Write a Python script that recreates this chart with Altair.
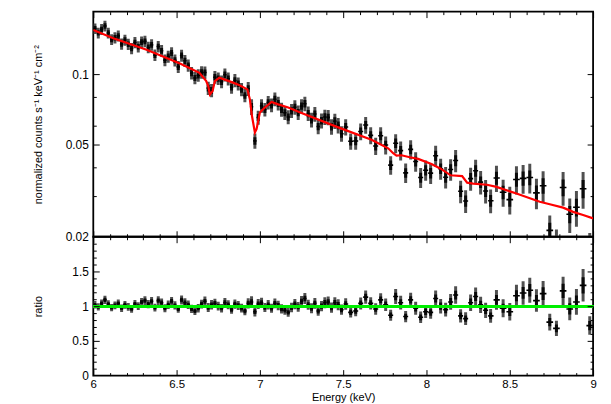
import altair as alt
import numpy as np
import pandas as pd

FONT = "Liberation Sans"

# ---------------- data ----------------
ENERGY = [
    6.01, 6.03, 6.05, 6.07, 6.09, 6.11, 6.13, 6.15, 6.17, 6.19,
    6.21, 6.23, 6.25, 6.27, 6.29, 6.31, 6.33, 6.35, 6.37, 6.39,
    6.41, 6.43, 6.45, 6.47, 6.49, 6.51, 6.53, 6.55, 6.57, 6.59,
    6.61, 6.63, 6.65, 6.67, 6.69, 6.71, 6.73, 6.75, 6.77, 6.79,
    6.81, 6.83, 6.85, 6.87, 6.89, 6.91, 6.93, 6.95, 6.97, 6.99,
    7.01, 7.03, 7.05, 7.07, 7.09, 7.11, 7.13, 7.15, 7.17, 7.19,
    7.21, 7.23, 7.25, 7.27, 7.29, 7.31, 7.33, 7.35, 7.37, 7.39,
    7.41, 7.43, 7.45, 7.47, 7.49,
    7.515, 7.545, 7.575, 7.605, 7.635, 7.665, 7.695, 7.725, 7.755, 7.785,
    7.815, 7.845, 7.875, 7.905, 7.935, 7.965, 7.995, 8.025, 8.055, 8.085,
    8.115, 8.145, 8.175, 8.205, 8.235, 8.265, 8.295, 8.325, 8.355, 8.385,
    8.42, 8.46, 8.50, 8.54, 8.58, 8.62, 8.66, 8.70, 8.74, 8.78,
    8.82, 8.86, 8.90, 8.94, 8.98,
]

FLUX = [
    0.1578, 0.1512, 0.1566, 0.1620, 0.1510, 0.1416, 0.1441, 0.1468, 0.1354, 0.1408,
    0.1351, 0.1295, 0.1374, 0.1318, 0.1380, 0.1390, 0.1309, 0.1343, 0.1213, 0.1320,
    0.1266, 0.1154, 0.1196, 0.1238, 0.1152, 0.1079, 0.1208, 0.1146, 0.1095, 0.1015,
    0.0967, 0.0992, 0.1022, 0.1020, 0.0874, 0.0855, 0.0974, 0.0961, 0.0932, 0.0998,
    0.0959, 0.0882, 0.0943, 0.0913, 0.0863, 0.0813, 0.0869, 0.0726, 0.0518, 0.0653,
    0.0733, 0.0707, 0.0757, 0.0739, 0.0783, 0.0751, 0.0707, 0.0685, 0.0656, 0.0698,
    0.0723, 0.0686, 0.0731, 0.0749, 0.0679, 0.0638, 0.0676, 0.0597, 0.0633, 0.0656,
    0.0654, 0.0596, 0.0630, 0.0604, 0.0556,
    0.0594, 0.0516, 0.0517, 0.0568, 0.0606, 0.0547, 0.0492, 0.0545, 0.0497, 0.0407,
    0.0506, 0.0470, 0.0377, 0.0476, 0.0422, 0.0360, 0.0387, 0.0376, 0.0447, 0.0393,
    0.0361, 0.0390, 0.0426, 0.0314, 0.0285, 0.0356, 0.0385, 0.0344, 0.0315, 0.0286,
    0.0358, 0.0311, 0.0289, 0.0353, 0.0357, 0.0360, 0.0309, 0.0332, 0.0213, 0.0185,
    0.0326, 0.0250, 0.0268, 0.0322, 0.0175,
]

RATIO = [
    1.02, 0.99, 1.04, 1.09, 1.03, 0.98, 1.01, 1.04, 0.97, 1.02,
    0.99, 0.96, 1.03, 1.00, 1.06, 1.08, 1.03, 1.07, 0.98, 1.08,
    1.05, 0.97, 1.02, 1.07, 1.01, 0.96, 1.09, 1.05, 1.02, 0.96,
    0.93, 0.97, 1.03, 1.07, 0.98, 1.02, 1.04, 1.00, 0.97, 1.05,
    1.02, 0.95, 1.03, 1.01, 0.97, 0.93, 1.04, 1.06, 0.92, 1.03,
    1.05, 0.98, 1.02, 0.97, 1.04, 1.01, 0.96, 0.94, 0.91, 0.98,
    1.03, 0.99, 1.07, 1.11, 1.02, 0.97, 1.04, 0.93, 1.00, 1.05,
    1.06, 0.98, 1.05, 1.02, 0.95,
    1.03, 0.91, 0.93, 1.04, 1.13, 1.04, 0.96, 1.09, 1.02, 0.87,
    1.14, 1.05, 0.85, 1.09, 0.97, 0.84, 0.92, 0.91, 1.11, 1.00,
    0.95, 1.06, 1.16, 0.86, 0.82, 1.05, 1.14, 1.02, 0.94, 0.86,
    1.09, 0.97, 0.92, 1.15, 1.19, 1.23, 1.08, 1.18, 0.77, 0.68,
    1.22, 0.96, 1.06, 1.30, 0.72,
]

REL_ERR = [
    0.053, 0.053, 0.054, 0.054, 0.054, 0.054, 0.055, 0.055, 0.055, 0.055,
    0.055, 0.056, 0.056, 0.056, 0.056, 0.057, 0.057, 0.057, 0.057, 0.058,
    0.058, 0.058, 0.059, 0.059, 0.059, 0.059, 0.060, 0.060, 0.060, 0.061,
    0.061, 0.062, 0.062, 0.063, 0.066, 0.066, 0.063, 0.063, 0.063, 0.064,
    0.064, 0.064, 0.065, 0.065, 0.065, 0.066, 0.070, 0.077, 0.075, 0.070,
    0.067, 0.067, 0.067, 0.068, 0.068, 0.069, 0.069, 0.069, 0.070, 0.070,
    0.071, 0.071, 0.072, 0.072, 0.072, 0.073, 0.073, 0.074, 0.074, 0.075,
    0.075, 0.076, 0.076, 0.077, 0.077,
    0.080, 0.081, 0.082, 0.083, 0.084, 0.085, 0.086, 0.088, 0.089, 0.092,
    0.094, 0.094, 0.096, 0.096, 0.097, 0.099, 0.100, 0.102, 0.103, 0.104,
    0.106, 0.107, 0.109, 0.111, 0.112, 0.113, 0.114, 0.115, 0.116, 0.117,
    0.130, 0.133, 0.136, 0.139, 0.142, 0.146, 0.150, 0.154, 0.158, 0.162,
    0.166, 0.170, 0.175, 0.180, 0.185,
]

MODEL_E = [6.00, 6.12, 6.32, 6.52, 6.577, 6.637, 6.677, 6.69, 6.70, 6.716,
           6.73, 6.756, 6.815, 6.875, 6.925, 6.94, 6.952, 6.97, 6.98, 7.00,
           7.03, 7.07, 7.11, 7.17, 7.25, 7.47, 7.67, 7.77, 7.80, 7.82,
           7.85, 7.90, 7.95, 8.03, 8.085, 8.145, 8.214, 8.244, 8.28, 8.363,
           8.42, 8.54, 8.68, 8.74, 8.82, 8.88, 8.94, 9.00]
MODEL_F = [0.1557, 0.1435, 0.1279, 0.1116, 0.1068, 0.1017, 0.0940, 0.0892, 0.0821, 0.0849,
           0.0937, 0.0968, 0.0937, 0.0901, 0.0863, 0.0782, 0.0666, 0.0563, 0.0582, 0.0686,
           0.0721, 0.0762, 0.0744, 0.0721, 0.0683, 0.0592, 0.0524, 0.0481, 0.0458, 0.0447,
           0.0449, 0.0440, 0.0433, 0.0412, 0.0393, 0.0368, 0.0365, 0.0342, 0.0339, 0.0335,
           0.0328, 0.0307, 0.0283, 0.0276, 0.0267, 0.0256, 0.0248, 0.0240]

X_MAJOR = [6.0, 6.5, 7.0, 7.5, 8.0, 8.5, 9.0]
X_MINOR = [6.1, 6.2, 6.3, 6.4, 6.6, 6.7, 6.8, 6.9, 7.1, 7.2, 7.3, 7.4,
           7.6, 7.7, 7.8, 7.9, 8.1, 8.2, 8.3, 8.4, 8.6, 8.7, 8.8, 8.9]
YT_LABELS = [0.02, 0.05, 0.1]
YT_MAJOR = [0.05, 0.1]
YT_MINOR = [0.03, 0.04, 0.06, 0.08]
YB_LABELS = [0, 0.5, 1, 1.5]
YB_MAJOR = [0.5, 1.0, 1.5]
YB_MINOR = [0.1, 0.2, 0.3, 0.4, 0.6, 0.7, 0.8, 0.9, 1.1, 1.2, 1.3, 1.4,
            1.6, 1.7, 1.8, 1.9]

W, H1, H2 = 504, 227, 140
MAJ, MIN = 6, 3

# ---------------- tables ----------------
E = np.array(ENERGY)
mid = (E[1:] + E[:-1]) / 2
lo = np.concatenate([[E[0] - (mid[0] - E[0])], mid])
hi = np.concatenate([mid, [E[-1] + (E[-1] - mid[-1])]])
f = np.array(FLUX)
r = np.array(RATIO)
e = np.array(REL_ERR)
df = pd.DataFrame({
    "E": E, "lo": lo, "hi": hi,
    "f": f, "flo": f * (1 - e), "fhi": f * (1 + e),
    "fclo": f * (1 - e / 2), "fchi": f * (1 + e / 2),
    "r": r, "rlo": r * (1 - e), "rhi": r * (1 + e),
    "rclo": r * (1 - e / 2), "rchi": r * (1 + e / 2),
})
mdf = pd.DataFrame({"E": MODEL_E, "F": MODEL_F})

XS = alt.Scale(domain=[6, 9], nice=False, zero=False)
YT = alt.Scale(type="log", domain=[0.02, 0.1867], nice=False)
YB = alt.Scale(domain=[0, 2], nice=False, zero=False)

BAR_GREY = "#505050"
BAR_CORE = "#0a0a0a"
GREY_W, CORE_W, HOR_W = 3.0, 3.0, 1.6


def tick_axis(orient, offset, values, size):
    return alt.Axis(orient=orient, offset=offset, values=values, tickSize=size,
                    ticks=True, labels=False, domain=False, grid=False,
                    tickColor="black", tickWidth=1, title=None, zindex=2)


def ylabel_axis(values, title):
    return alt.Axis(orient="left", values=values, labelExpr="datum.value + ''",
                    ticks=False, tickSize=0, domain=False, grid=False,
                    labelPadding=5, labelOverlap=False, labelFontSize=12,
                    title=title, titleX=-50, titleFontSize=11, zindex=2)


# ---------------- top panel ----------------
t_vr = alt.Chart(df).mark_rule(color=BAR_GREY, strokeWidth=GREY_W, clip=True).encode(
    x=alt.X("E:Q", scale=XS, axis=tick_axis("top", -H1, X_MAJOR, MAJ)),
    y=alt.Y("flo:Q", scale=YT,
            axis=ylabel_axis(YT_LABELS, "normalized counts s\u207b\u00b9 keV\u207b\u00b9 cm\u207b\u00b2")),
    y2="fhi:Q",
)
t_core = alt.Chart(df).mark_rule(color=BAR_CORE, strokeWidth=CORE_W, clip=True).encode(
    x=alt.X("E:Q", scale=XS, axis=None),
    y=alt.Y("fclo:Q", scale=YT, axis=None),
    y2="fchi:Q",
)
t_hr = alt.Chart(df).mark_rule(color="black", strokeWidth=HOR_W, clip=True).encode(
    x=alt.X("lo:Q", scale=XS, axis=tick_axis("top", -H1, X_MINOR, MIN)),
    x2="hi:Q",
    y=alt.Y("f:Q", scale=YT, axis=tick_axis("right", -W, YT_MAJOR, MAJ)),
)
t_ml = alt.Chart(mdf).mark_line(color="#ff0000", strokeWidth=2.2, clip=True).encode(
    x=alt.X("E:Q", scale=XS, axis=tick_axis("bottom", -H1, X_MAJOR, MAJ)),
    y=alt.Y("F:Q", scale=YT, axis=tick_axis("right", -W, YT_MINOR, MIN)),
)
t_d1 = alt.Chart(mdf).mark_line(opacity=0).encode(
    x=alt.X("E:Q", scale=XS, axis=tick_axis("bottom", -H1, X_MINOR, MIN)),
    y=alt.Y("F:Q", scale=YT, axis=tick_axis("left", -W, YT_MAJOR, MAJ)),
)
t_d2 = alt.Chart(mdf).mark_line(opacity=0).encode(
    x=alt.X("E:Q", scale=XS, axis=None),
    y=alt.Y("F:Q", scale=YT, axis=tick_axis("left", -W, YT_MINOR, MIN)),
)
top = alt.layer(t_vr, t_core, t_hr, t_ml, t_d1, t_d2).resolve_axis(
    x="independent", y="independent").properties(width=W, height=H1)

# ---------------- ratio panel ----------------
b_vr = alt.Chart(df).mark_rule(color=BAR_GREY, strokeWidth=GREY_W, clip=True).encode(
    x=alt.X("E:Q", scale=XS,
            axis=alt.Axis(orient="bottom", values=X_MAJOR, labelExpr="datum.value + ''",
                          ticks=False, tickSize=0, domain=False, grid=False,
                          labelFlush=False, labelOverlap=False, labelPadding=3,
                          labelFontSize=11.5, title="Energy (keV)", titleFontSize=11,
                          titleY=16, titleBaseline="top", zindex=2)),
    y=alt.Y("rlo:Q", scale=YB, axis=ylabel_axis(YB_LABELS, "ratio")),
    y2="rhi:Q",
)
b_core = alt.Chart(df).mark_rule(color=BAR_CORE, strokeWidth=CORE_W, clip=True).encode(
    x=alt.X("E:Q", scale=XS, axis=None),
    y=alt.Y("rclo:Q", scale=YB, axis=None),
    y2="rchi:Q",
)
b_hr = alt.Chart(df).mark_rule(color="black", strokeWidth=HOR_W, clip=True).encode(
    x=alt.X("lo:Q", scale=XS, axis=tick_axis("top", -H2, X_MAJOR, MAJ)),
    x2="hi:Q",
    y=alt.Y("r:Q", scale=YB, axis=tick_axis("right", -W, YB_MAJOR, MAJ)),
)
b_d1 = alt.Chart(df).mark_point(opacity=0).encode(
    x=alt.X("E:Q", scale=XS, axis=tick_axis("top", -H2, X_MINOR, MIN)),
    y=alt.Y("r:Q", scale=YB, axis=tick_axis("right", -W, YB_MINOR, MIN)),
)
b_d2 = alt.Chart(df).mark_point(opacity=0).encode(
    x=alt.X("E:Q", scale=XS, axis=tick_axis("bottom", -H2, X_MAJOR, MAJ)),
    y=alt.Y("r:Q", scale=YB, axis=tick_axis("left", -W, YB_MAJOR, MAJ)),
)
b_d3 = alt.Chart(df).mark_point(opacity=0).encode(
    x=alt.X("E:Q", scale=XS, axis=tick_axis("bottom", -H2, X_MINOR, MIN)),
    y=alt.Y("r:Q", scale=YB, axis=tick_axis("left", -W, YB_MINOR, MIN)),
)
b_one = alt.Chart(df).mark_rule(color="#00ee00", strokeWidth=2.2).encode(
    y=alt.YDatum(1, scale=YB, axis=None),
)
bottom = alt.layer(b_vr, b_core, b_hr, b_d1, b_d2, b_d3, b_one).resolve_axis(
    x="independent", y="independent").properties(width=W, height=H2)

chart = alt.vconcat(top, bottom, spacing=0, bounds="flush").properties(
    padding={"left": 24, "top": 0, "right": 5, "bottom": 0}
).configure_view(
    stroke="black", strokeWidth=1.8
).configure_axis(
    labelFont=FONT, titleFont=FONT, labelColor="black", titleColor="black",
    titleFontWeight="normal"
)

chart.save("out.html", embed_options={"renderer": "svg", "actions": False})
